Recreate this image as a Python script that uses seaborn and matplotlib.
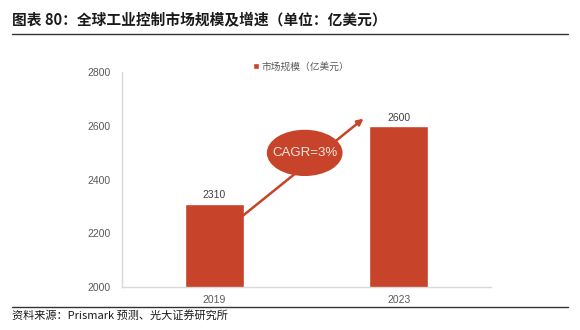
import matplotlib
matplotlib.use("Agg")
import matplotlib.pyplot as plt
import seaborn as sns
import pandas as pd
from matplotlib.patches import Ellipse, FancyArrowPatch
from matplotlib.lines import Line2D

years = ["2019", "2023"]
market_size = [2310, 2600]
yticks = [2000, 2200, 2400, 2600, 2800]
title = "图表 80：全球工业控制市场规模及增速（单位：亿美元）"
legend_label = "市场规模（亿美元）"
cagr_text = "CAGR=3%"
source = "资料来源：Prismark 预测、光大证券研究所"

sns.set_theme(style="white")
plt.rcParams['font.family'] = ['Noto Sans CJK SC', 'DejaVu Sans']

bar_color = "#C7432A"
grey = "#595959"

df = pd.DataFrame({"year": years, "value": market_size})

fig = plt.figure(figsize=(5.8, 3.3), dpi=100)
ax = fig.add_axes([0.210, 0.130, 0.637, 0.652])
sns.barplot(data=df, x="year", y="value", color=bar_color, width=0.32,
            saturation=1, ax=ax, label=legend_label)
ax.set_ylim(2000, 2800)
ax.set_xlim(-0.5, 1.5)
ax.set_yticks(yticks)
ax.set_yticklabels([str(t) for t in yticks], fontsize=7.5, color=grey, family="Liberation Sans")
ax.set_xticks(range(len(years)))
ax.set_xticklabels(years, fontsize=7.5, color=grey, family="Liberation Sans")
ax.tick_params(axis="y", length=0, pad=8)
ax.tick_params(axis="x", length=0, pad=6)
ax.set_xlabel("")
ax.set_ylabel("")
for s in ["top", "right"]:
    ax.spines[s].set_visible(False)
for s in ["left", "bottom"]:
    ax.spines[s].set_color("#D9D9D9")
    ax.spines[s].set_linewidth(1.0)
ax.set_xticks([0.5], minor=True)
ax.tick_params(axis="x", which="minor", length=3, direction="in", color="#D9D9D9")

for i, v in enumerate(market_size):
    ax.text(i, v + 12, str(v), ha="center", va="bottom", fontsize=7.5,
            color="#404040", family="Liberation Sans")

# arrow
arr = FancyArrowPatch((0.14, 2257), (0.82, 2633), arrowstyle="-|>", mutation_scale=9,
                      color=bar_color, lw=1.8, zorder=3)
ax.add_patch(arr)
ell = Ellipse((0.49, 2499), 0.41, 172, facecolor=bar_color, edgecolor="none", zorder=4)
ax.add_patch(ell)
ax.text(0.49, 2499, cagr_text, ha="center", va="center", fontsize=9.5,
        color="#F5E6DF", zorder=5, family="Liberation Sans")

leg = ax.legend(loc="upper center", bbox_to_anchor=(0.485, 1.09), frameon=False,
                fontsize=7, handlelength=0.6, handleheight=0.6, handletextpad=0.3)
for t in leg.get_texts():
    t.set_color(grey)

fig.text(0.021, 0.94, title, fontsize=10.6, fontweight="bold", color="#1a1a1a",
         ha="left", va="center")
fig.add_artist(Line2D([0.021, 0.979], [0.898, 0.898], color="#333333", lw=1.0))
fig.add_artist(Line2D([0.021, 0.979], [0.070, 0.070], color="#333333", lw=1.0))
fig.text(0.021, 0.043, source, fontsize=8, color="#1a1a1a", ha="left", va="center")

fig.savefig("out.png", dpi=100)
